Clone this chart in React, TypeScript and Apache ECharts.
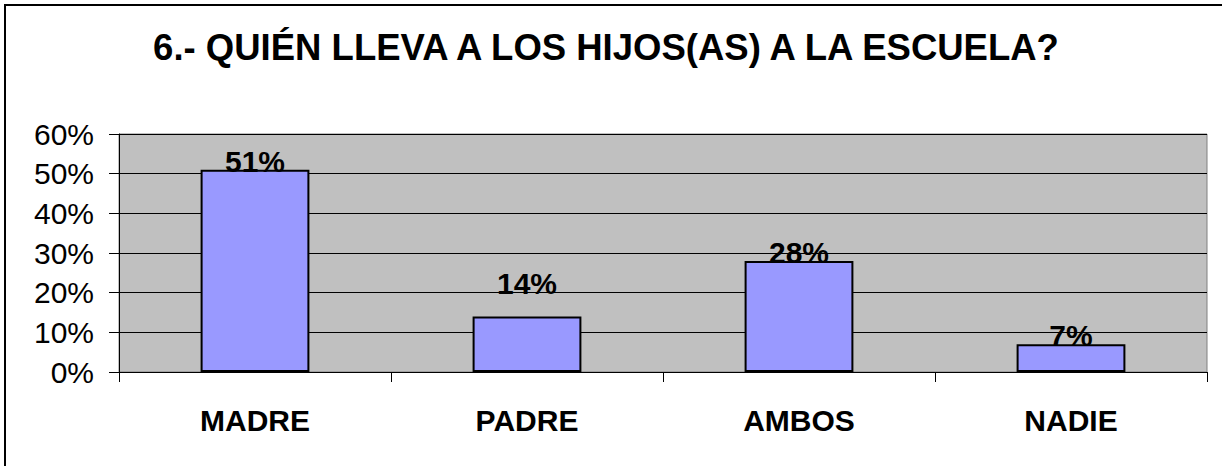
import React, { useEffect, useRef } from "react";
import * as echarts from "echarts";

const categories = ["MADRE", "PADRE", "AMBOS", "NADIE"];
const values = [0.51, 0.14, 0.28, 0.07];
const labels = ["51%", "14%", "28%", "7%"];
const yTicks = { min: 0, max: 0.6, interval: 0.1 };
const titleText = "6.- QUIÉN LLEVA A LOS HIJOS(AS) A LA ESCUELA?";

const FONT = "'Liberation Sans', Arial, sans-serif";

export default function App() {
  const ref = useRef<HTMLDivElement>(null);
  useEffect(() => {
    document.body.style.margin = "0";
    const chart = echarts.init(ref.current!, null, { renderer: "svg" });
    const extraOffset = [0, -24, 0, 0];
    chart.setOption({
      animation: false,
      backgroundColor: "#FFFFFF",
      textStyle: { fontFamily: FONT },
      graphic: [
        {
          type: "rect",
          shape: { x: 5, y: 5, width: 1240, height: 480 },
          style: { fill: "none", stroke: "#000", lineWidth: 2 },
          silent: true,
        },
        {
          type: "text",
          x: 606,
          y: 47,
          style: {
            text: titleText,
            font: `bold 36.5px ${FONT}`,
            fill: "#000",
            textAlign: "center",
            textVerticalAlign: "middle",
          },
        },
      ],
      grid: {
        left: 119,
        top: 134,
        right: 15,
        bottom: 94,
        show: true,
        backgroundColor: "#C0C0C0",
        borderColor: "#808080",
        borderWidth: 1,
      },
      xAxis: {
        type: "category",
        data: categories,
        axisLine: { show: true, lineStyle: { color: "#000", width: 1 } },
        axisTick: { show: true, length: 10, inside: false, lineStyle: { color: "#000" } },
        axisLabel: {
          margin: 33,
          fontSize: 30,
          fontWeight: "bold",
          color: "#000",
          fontFamily: FONT,
        },
      },
      yAxis: {
        type: "value",
        min: yTicks.min,
        max: yTicks.max,
        interval: yTicks.interval,
        axisLine: { show: true, lineStyle: { color: "#000", width: 1 } },
        axisTick: { show: true, length: 10, lineStyle: { color: "#000" } },
        axisLabel: {
          margin: 25,
          fontSize: 30,
          color: "#000",
          fontFamily: FONT,
          formatter: (v: number) => `${Math.round(v * 100)}%`,
        },
        splitLine: { show: true, lineStyle: { color: "#000", width: 1 } },
      },
      series: [
        {
          type: "bar",
          barCategoryGap: "60%",
          data: values.map((v, i) => ({
            value: v,
            label: {
              show: true,
              position: "top",
              distance: -6.5,
              offset: [0, extraOffset[i]],
              formatter: () => labels[i],
              fontSize: 30,
              fontWeight: "bold",
              color: "#000",
              fontFamily: FONT,
            },
          })),
          itemStyle: { color: "#9999FF", borderColor: "#000", borderWidth: 2 },
        },
      ],
    });
    return () => chart.dispose();
  }, []);
  return <div ref={ref} style={{ width: 1222, height: 466 }} />;
}
